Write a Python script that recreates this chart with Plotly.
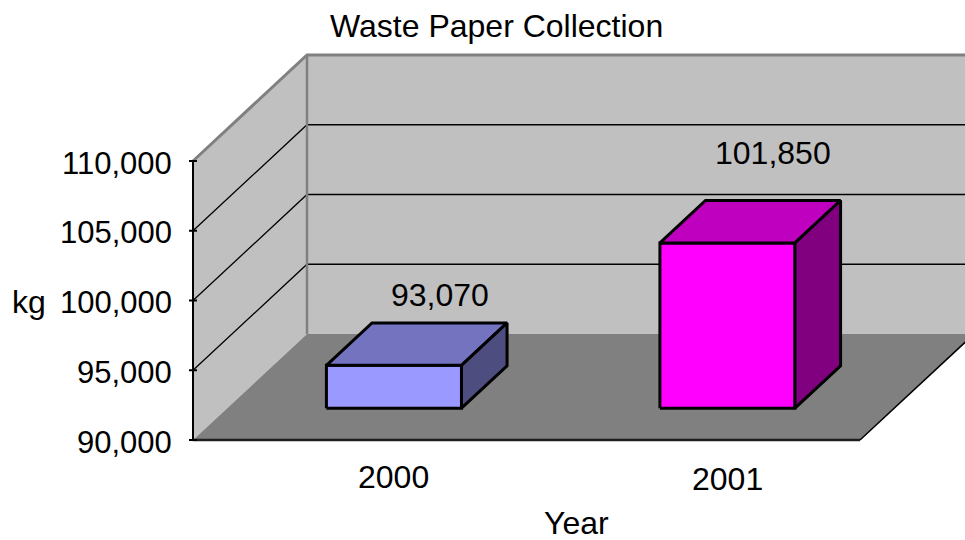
import plotly.graph_objects as go

# ---------------- data ----------------
YEARS = ["2000", "2001"]
KG = [93070, 101850]
Y_TICKS = [90000, 95000, 100000, 105000, 110000]
TITLE = "Waste Paper Collection"
X_TITLE = "Year"
Y_TITLE = "kg"

# ---------------- layout / style constants ----------------
W, H = 965, 540
X0_PX, Y0_PX = 193, 440          # pixel of category 0 / value min on front plane
CAT_PX = 333.5                   # pixels per category slot
VAL_PX = 279 / 20000             # pixels per kg
DEPTH_X_PX, DEPTH_Y_PX = 114, 106
BAR_HALF = 0.2025                # half bar width (category units)
BAR_Z0, BAR_Z1 = 0.3, 0.7        # bar depth span
FONT = "Liberation Sans, Arial, sans-serif"
FRONT_C = ["#9999ff", "#ff00ff"]
TOP_C = ["#7373bf", "#bf00bf"]
SIDE_C = ["#4d4d80", "#800080"]
WALL_C = "#c0c0c0"
FLOOR_C = "#808080"
EDGE_C = "#808080"
LABEL_LIFT_PX = [28, 47]

N = len(YEARS)
Y_MIN, Y_MAX = Y_TICKS[0], Y_TICKS[-1]
DX = DEPTH_X_PX / CAT_PX
DY = DEPTH_Y_PX / VAL_PX


def proj(c, v, z):
    return c + z * DX, v + z * DY


def poly(pts):
    xs, ys = [], []
    for c, v, z in pts:
        x, y = proj(c, v, z)
        xs.append(x)
        ys.append(y)
    return xs, ys


fig = go.Figure()


def add_fill(pts, color, line_color=None, lw=0):
    xs, ys = poly(pts + [pts[0]])
    fig.add_trace(go.Scatter(
        x=xs, y=ys, mode="lines", fill="toself", fillcolor=color,
        line=dict(color=line_color or color, width=lw),
        hoverinfo="skip", showlegend=False))


def add_line(pts, color, lw):
    xs, ys = poly(pts)
    fig.add_trace(go.Scatter(
        x=xs, y=ys, mode="lines", line=dict(color=color, width=lw),
        hoverinfo="skip", showlegend=False))


# walls and floor
add_fill([(0, Y_MIN, 0), (0, Y_MAX, 0), (0, Y_MAX, 1), (0, Y_MIN, 1)], WALL_C)
add_fill([(0, Y_MIN, 1), (N, Y_MIN, 1), (N, Y_MAX, 1), (0, Y_MAX, 1)], WALL_C)
add_fill([(0, Y_MIN, 0), (N, Y_MIN, 0), (N, Y_MIN, 1), (0, Y_MIN, 1)], FLOOR_C)

# gridlines
for v in Y_TICKS[1:-1]:
    add_line([(0, v, 0), (0, v, 1), (N, v, 1)], "#000000", 1.3)

# wall edges
add_line([(0, Y_MAX, 0), (0, Y_MAX, 1), (N, Y_MAX, 1)], EDGE_C, 3)
add_line([(0, Y_MIN, 1), (0, Y_MAX, 1)], EDGE_C, 2.5)

# floor edges
add_line([(0, Y_MIN, 0), (N, Y_MIN, 0)], "#1e1e1e", 2.5)
add_line([(N, Y_MIN, 0), (N, Y_MIN, 1)], "#000000", 1.5)

# value axis line and ticks
add_line([(0, Y_MIN, 0), (0, Y_MAX, 0)], "#000000", 2)
tick_half = 4 / CAT_PX
for v in Y_TICKS:
    add_line([(-tick_half, v, 0), (tick_half, v, 0)], "#000000", 2)

# bars
for i, val in enumerate(KG):
    c0 = i + 0.5 - BAR_HALF
    c1 = i + 0.5 + BAR_HALF
    add_fill([(c0, Y_MIN, BAR_Z0), (c1, Y_MIN, BAR_Z0), (c1, val, BAR_Z0), (c0, val, BAR_Z0)],
             FRONT_C[i], "#000000", 3)
    add_fill([(c0, val, BAR_Z0), (c1, val, BAR_Z0), (c1, val, BAR_Z1), (c0, val, BAR_Z1)],
             TOP_C[i], "#000000", 3)
    add_fill([(c1, Y_MIN, BAR_Z0), (c1, Y_MIN, BAR_Z1), (c1, val, BAR_Z1), (c1, val, BAR_Z0)],
             SIDE_C[i], "#000000", 3)

annotations = []
# tick labels
for v in Y_TICKS:
    x, y = proj(0, v, 0)
    annotations.append(dict(x=x, y=y, xref="x", yref="y", text=f"{v:,}", showarrow=False,
                            xanchor="right", yanchor="middle", xshift=-19, yshift=-2,
                            font=dict(family=FONT, size=31, color="#000000")))
# data labels
for i, val in enumerate(KG):
    x, y = proj(i + 0.5, val, BAR_Z1)
    annotations.append(dict(x=x, y=y, xref="x", yref="y", text=f"{val:,}", showarrow=False,
                            xanchor="center", yanchor="middle", yshift=LABEL_LIFT_PX[i],
                            font=dict(family=FONT, size=32, color="#000000")))
# category labels
for i, yr in enumerate(YEARS):
    x, _ = proj(i + 0.5, Y_MIN, BAR_Z0)
    annotations.append(dict(x=x, y=Y_MIN, xref="x", yref="y", text=yr, showarrow=False,
                            xanchor="center", yanchor="middle", yshift=-37 - 2 * i,
                            font=dict(family=FONT, size=32, color="#000000")))
# titles
annotations.append(dict(x=496 / W, y=1 - 26 / H, xref="paper", yref="paper", text=TITLE,
                        showarrow=False, xanchor="center", yanchor="middle",
                        font=dict(family=FONT, size=32, color="#000000")))
annotations.append(dict(x=576 / W, y=0, xref="paper", yref="paper", text=X_TITLE,
                        showarrow=False, xanchor="center", yanchor="bottom", yshift=-3,
                        font=dict(family=FONT, size=32, color="#000000")))
annotations.append(dict(x=29 / W, y=1 - 302 / H, xref="paper", yref="paper", text=Y_TITLE,
                        showarrow=False, xanchor="center", yanchor="middle",
                        font=dict(family=FONT, size=32, color="#000000")))

fig.update_layout(
    width=W, height=H, autosize=False,
    margin=dict(l=0, r=0, t=0, b=0, pad=0),
    paper_bgcolor="#ffffff", plot_bgcolor="#ffffff",
    xaxis=dict(range=[-X0_PX / CAT_PX, (W - X0_PX) / CAT_PX], visible=False, fixedrange=True),
    yaxis=dict(range=[Y_MIN - (H - Y0_PX) / VAL_PX, Y_MIN + Y0_PX / VAL_PX], visible=False,
               fixedrange=True),
    annotations=annotations,
    showlegend=False,
)

fig.write_html("out.html", config={"displayModeBar": False},
               post_script="document.body.style.margin='0';document.body.style.overflow='hidden';")
